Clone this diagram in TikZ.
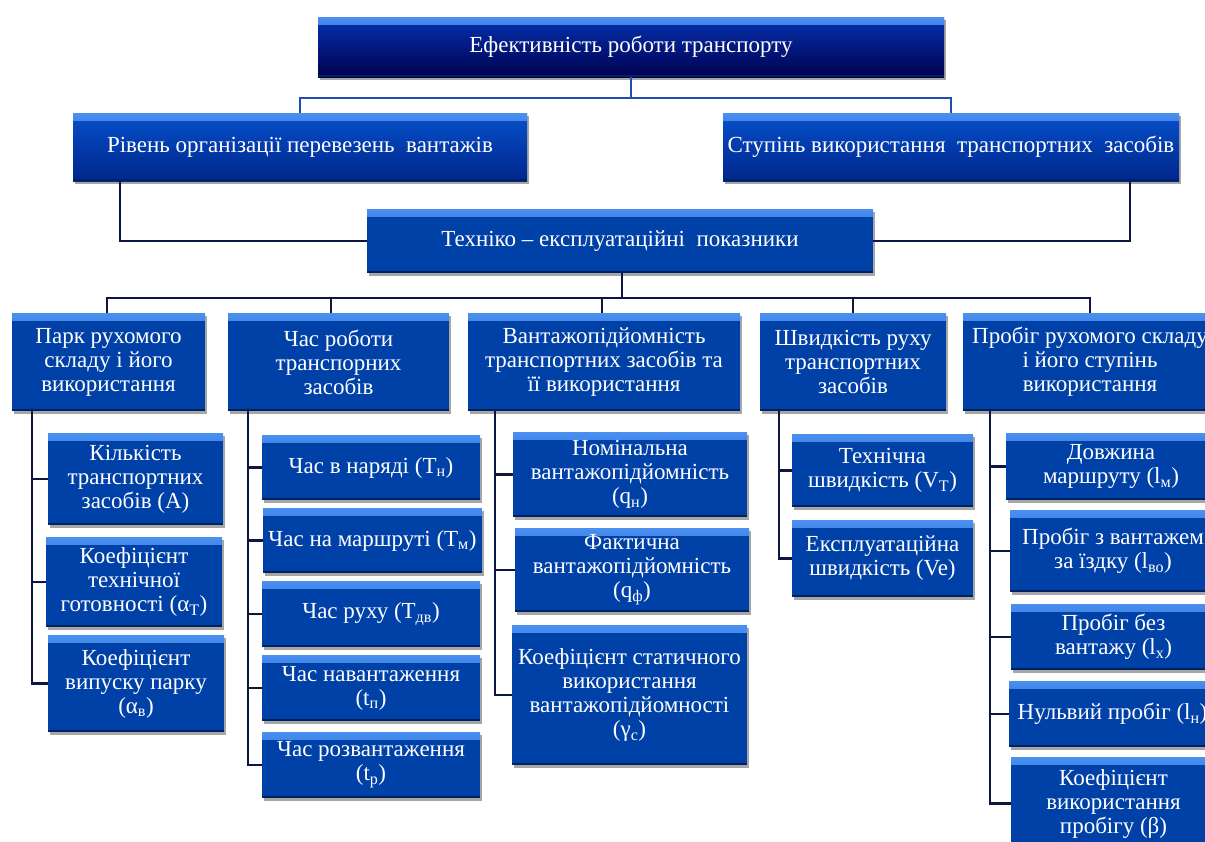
\documentclass[tikz,border=0pt]{standalone}
\usepackage{fontspec}
\setmainfont{Liberation Serif}
\usetikzlibrary{shadows}
\definecolor{topT}{HTML}{0532B0}
\definecolor{topB}{HTML}{000050}
\definecolor{midT}{HTML}{0650CC}
\definecolor{midB}{HTML}{00268A}
\definecolor{flat}{HTML}{0041A8}
\definecolor{hl}{HTML}{4A90F0}
\definecolor{edgeB}{HTML}{00225E}
\definecolor{lineD}{HTML}{0D1640}
\definecolor{lineT}{HTML}{1E4FB0}
\tikzset{
  basebox/.style={rectangle, draw=none, text=white, align=center, inner sep=1pt,
    font=\fontsize{23}{24}\selectfont,
    drop shadow={shadow xshift=2pt, shadow yshift=-2.5pt, fill=black, opacity=0.35},
    path picture={
      \shade[top color=hl, bottom color=#1]
        (path picture bounding box.north west) rectangle ([yshift=-7pt]path picture bounding box.north east);
      \fill[edgeB] ([yshift=2.5pt]path picture bounding box.south west) rectangle (path picture bounding box.south east);
    }},
  topbox/.style={basebox=topT, top color=topT, bottom color=topB},
  midbox/.style={basebox=midT, top color=midT, bottom color=midB},
  flatbox/.style={basebox=flat, fill=flat},
  conn/.style={draw=lineD, line width=2.3pt},
  conntop/.style={draw=lineT, line width=1.8pt},
}
\begin{document}
\begin{tikzpicture}[x=1pt, y=-1pt]
\clip (0,0) rectangle (1205,841);
% top levels
\node[topbox, minimum width=626, minimum height=60] (top) at (631,47) {Ефективність роботи транспорту};
\node[midbox, minimum width=454, minimum height=68] (l2a) at (300,147) {Рівень організації перевезень \ вантажів};
\node[midbox, minimum width=456, minimum height=68] (l2b) at (951,147) {Ступінь використання \ транспортних \ засобів};
\node[flatbox, minimum width=506, minimum height=64] (tech) at (620,241) {Техніко – експлуатаційні \ показники};
% level 4
\node[flatbox, minimum width=193, minimum height=98] (park) at (108.5,362) {Парк рухомого\\складу і його\\використання};
\node[flatbox, minimum width=221, minimum height=98] (chas) at (338.5,362) {Час роботи\\транспорних\\засобів};
\node[flatbox, minimum width=272, minimum height=98] (vant) at (604,362) {Вантажопідйомність\\транспортних засобів та\\її використання};
\node[flatbox, minimum width=186, minimum height=98] (shv) at (853,362) {Швидкість руху\\транспортних\\засобів};
\node[flatbox, minimum width=254, minimum height=98] (prob) at (1090,362) {Пробіг рухомого складу\\і його ступінь\\використання};
% park children
\node[flatbox, minimum width=175, minimum height=92] (k1) at (135.5,479) {Кількість\\транспортних\\засобів (А)};
\node[flatbox, minimum width=176, minimum height=90] (k2) at (134,582) {Коефіцієнт\\технічної\\готовності (α\textsubscript{Т})};
\node[flatbox, minimum width=176, minimum height=97] (k3) at (136,683.5) {Коефіцієнт\\випуску парку\\(α\textsubscript{в})};
% chas children
\node[flatbox, minimum width=218, minimum height=65] (c1) at (371,467.5) {Час в наряді (Т\textsubscript{н})};
\node[flatbox, minimum width=219, minimum height=65] (c2) at (372.5,540.5) {Час на маршруті (Т\textsubscript{м})};
\node[flatbox, minimum width=218, minimum height=66] (c3) at (371,614) {Час руху (Т\textsubscript{дв})};
\node[flatbox, minimum width=218, minimum height=66] (c4) at (371,688) {Час навантаження\\(t\textsubscript{п})};
\node[flatbox, minimum width=218, minimum height=66] (c5) at (371,765) {Час розвантаження\\(t\textsubscript{р})};
% vant children
\node[flatbox, minimum width=234, minimum height=85] (v1) at (630,474.5) {Номінальна\\вантажопідйомність\\(q\textsubscript{н})};
\node[flatbox, minimum width=234, minimum height=84] (v2) at (632,570) {Фактична\\вантажопідйомність\\(q\textsubscript{ф})};
\node[flatbox, minimum width=235, minimum height=140] (v3) at (629.5,695) {Коефіцієнт статичного\\використання\\вантажопідйомності\\(γ\textsubscript{с})};
% shv children
\node[flatbox, minimum width=181, minimum height=73] (s1) at (882.5,470.5) {Технічна\\швидкість (V\textsubscript{Т})};
\node[flatbox, minimum width=181, minimum height=77] (s2) at (882.5,558.5) {Експлуатаційна\\швидкість (Ve)};
% prob children
\node[flatbox, minimum width=210, minimum height=67] (p1) at (1111,466.5) {Довжина\\маршруту (l\textsubscript{м})};
\node[flatbox, minimum width=206, minimum height=82] (p2) at (1113,551) {Пробіг з вантажем\\за їздку (l\textsubscript{во})};
\node[flatbox, minimum width=205, minimum height=66] (p3) at (1113.5,637) {Пробіг без\\вантажу (l\textsubscript{х})};
\node[flatbox, minimum width=207, minimum height=66] (p4) at (1112.5,714) {Нульвий пробіг (l\textsubscript{н})};
\node[flatbox, minimum width=205, minimum height=93] (p5) at (1113.5,803.5) {Коефіцієнт\\використання\\пробігу (β)};
% connectors
\coordinate (topbus) at ([yshift=-21pt]top.south);
\draw[conntop] (top.south) -- (topbus) -| (l2a.north);
\draw[conntop] (topbus) -| (l2b.north);
\draw[conn] ([xshift=47pt]l2a.south west) |- (tech.west);
\draw[conn] ([xshift=-49pt]l2b.south east) |- (tech.east);
\coordinate (bus) at ([xshift=2pt,yshift=-25pt]tech.south);
\draw[conn] ([xshift=2pt]tech.south) -- (bus);
\draw[conn] (bus) -| ([xshift=-1.5pt]park.north);
\draw[conn] (bus) -| ([xshift=-7.5pt]chas.north);
\draw[conn] (bus) -| ([xshift=-2pt]vant.north);
\draw[conn] (bus) -| (shv.north);
\draw[conn] (bus) -| (prob.north);
% park branch
\draw[conn] ([xshift=20pt]park.south west) |- (k3.west);
\draw[conn] ([xshift=20pt]park.south west) |- (k1.west);
\draw[conn] ([xshift=20pt]park.south west) |- (k2.west);
% chas branch
\draw[conn] ([xshift=20pt]chas.south west) |- (c5.west);
\draw[conn] ([xshift=20pt]chas.south west) |- (c1.west);
\draw[conn] ([xshift=20pt]chas.south west) |- (c2.west);
\draw[conn] ([xshift=20pt]chas.south west) |- (c3.west);
\draw[conn] ([xshift=20pt]chas.south west) |- (c4.west);
% vant branch
\draw[conn] ([xshift=27pt]vant.south west) |- (v3.west);
\draw[conn] ([xshift=27pt]vant.south west) |- (v1.west);
\draw[conn] ([xshift=27pt]vant.south west) |- (v2.west);
% shv branch
\draw[conn] ([xshift=19pt]shv.south west) |- (s2.west);
\draw[conn] ([xshift=19pt]shv.south west) |- (s1.west);
% prob branch
\draw[conn] ([xshift=27pt]prob.south west) |- (p5.west);
\draw[conn] ([xshift=27pt]prob.south west) |- (p1.west);
\draw[conn] ([xshift=27pt]prob.south west) |- (p2.west);
\draw[conn] ([xshift=27pt]prob.south west) |- (p3.west);
\draw[conn] ([xshift=27pt]prob.south west) |- (p4.west);
\end{tikzpicture}
\end{document}
